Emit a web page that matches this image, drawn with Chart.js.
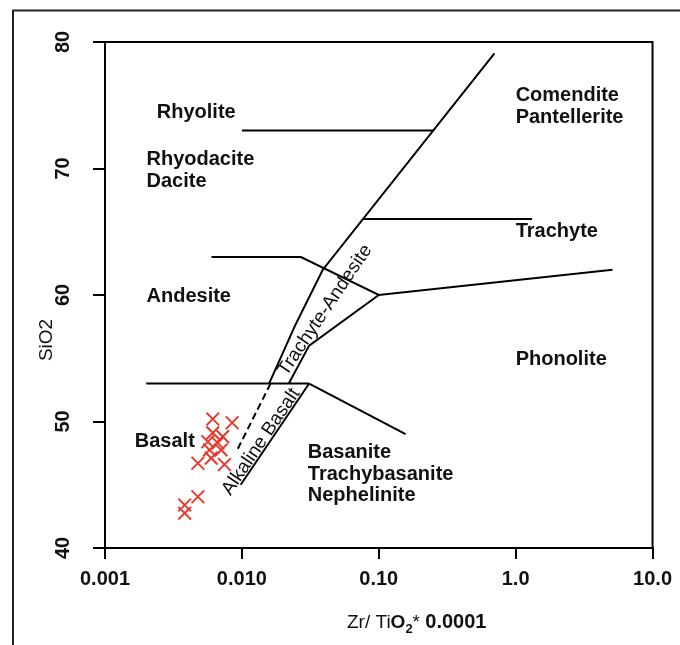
<!DOCTYPE html>
<html>
<head>
<meta charset="utf-8">
<script src="https://cdn.jsdelivr.net/npm/chart.js@4/dist/chart.umd.min.js"></script>
<style>
  html, body { margin: 0; padding: 0; background: #fff; }
  #wrap { width: 680px; height: 645px; }
</style>
</head>
<body>
<div id="wrap"><canvas id="tas" width="680" height="645"></canvas></div>
<script>
// axis ticks
const xTickValues = [0.001, 0.01, 0.1, 1, 10];
const xTickLabels = ["0.001", "0.010", "0.10", "1.0", "10.0"];
const yTickValues = [40, 50, 60, 70, 80];
const yTickLabels = ["40", "50", "60", "70", "80"];

// field boundaries (Zr/TiO2*0.0001 vs SiO2)
const mainLineX = [0.0158, 0.0245, 0.039, 0.70];
const mainLineY = [53, 57.6, 62, 79.1];
const rhyoliteLineX = [0.01, 0.25];
const rhyoliteLineY = [73, 73];
const trachyteLineX = [0.077, 1.32];
const trachyteLineY = [66, 66];
const andesiteLineX = [0.006, 0.027, 0.1, 5.1];
const andesiteLineY = [63, 63, 60, 62];
const trachyandesiteLineX = [0.1, 0.031, 0.022];
const trachyandesiteLineY = [60, 56, 53];
const basaltLineX = [0.002, 0.031];
const basaltLineY = [53, 53];
const basaniteLineX = [0.031, 0.157];
const basaniteLineY = [53, 49];
const alkBasaltLineX = [0.031, 0.0098];
const alkBasaltLineY = [53, 45];
const dashedLineX = [0.0162, 0.0091];
const dashedLineY = [53, 47.6];

// samples
const sampleZrTi = [0.00613, 0.00849, 0.00613, 0.00725, 0.00564, 0.00667, 0.0058,
                    0.00706, 0.00477, 0.00597, 0.00746, 0.00477, 0.00382, 0.00382];
const sampleSiO2 = [50.2, 49.9, 49.1, 48.8, 48.4, 48.3, 47.75,
                    47.75, 46.7, 47.1, 46.6, 44.05, 43.4, 42.75];

const FONT = "'Liberation Sans', Arial, sans-serif";

function toPoints(xs, ys) {
    return xs.map((x, i) => ({ x: x, y: ys[i] }));
}

function boundary(xs, ys, dash) {
    return {
        data: toPoints(xs, ys),
        showLine: true,
        borderColor: "#000",
        borderWidth: 2,
        borderDash: dash || [],
        pointRadius: 0,
        fill: false,
        order: 2
    };
}

const datasets = [
    {
        data: toPoints(sampleZrTi, sampleSiO2),
        pointStyle: "crossRot",
        pointRadius: 9,
        pointBorderWidth: 2,
        borderColor: "#e8392e",
        backgroundColor: "#e8392e",
        showLine: false,
        order: 1
    },
    boundary(mainLineX, mainLineY),
    boundary(rhyoliteLineX, rhyoliteLineY),
    boundary(trachyteLineX, trachyteLineY),
    boundary(andesiteLineX, andesiteLineY),
    boundary(trachyandesiteLineX, trachyandesiteLineY),
    boundary(basaltLineX, basaltLineY),
    boundary(basaniteLineX, basaniteLineY),
    boundary(alkBasaltLineX, alkBasaltLineY),
    boundary(dashedLineX, dashedLineY, [7, 4])
];

// field names, placed in data coordinates (left edge, middle)
const fieldLabels = [
    { text: "Rhyolite", x: 0.00239, y: 74.4 },
    { text: "Rhyodacite", x: 0.00201, y: 70.7 },
    { text: "Dacite", x: 0.00201, y: 69.0 },
    { text: "Andesite", x: 0.00201, y: 59.9 },
    { text: "Basalt", x: 0.00165, y: 48.4 },
    { text: "Comendite", x: 1.0, y: 75.8 },
    { text: "Pantellerite", x: 1.0, y: 74.0 },
    { text: "Trachyte", x: 1.0, y: 65.0 },
    { text: "Phonolite", x: 1.0, y: 54.9 },
    { text: "Basanite", x: 0.0303, y: 47.55 },
    { text: "Trachybasanite", x: 0.0303, y: 45.85 },
    { text: "Nephelinite", x: 0.0303, y: 44.13 }
];
const rotatedLabels = [
    { text: "Trachyte-Andesite", x: 0.0405, y: 58.8, angle: -56 },
    { text: "Alkaline Basalt", x: 0.0138, y: 48.4, angle: -56 }
];

const decorPlugin = {
    id: "decor",
    afterDraw(chart) {
        const ctx = chart.ctx;
        const area = chart.chartArea;
        const xs = chart.scales.x;
        const ys = chart.scales.y;
        ctx.save();

        // outer frame
        ctx.strokeStyle = "#222";
        ctx.lineWidth = 2;
        ctx.strokeRect(13, 10.5, 720, 720);

        // top and right edge of the plot box
        ctx.strokeStyle = "#000";
        ctx.beginPath();
        ctx.moveTo(area.left, area.top);
        ctx.lineTo(area.right, area.top);
        ctx.lineTo(area.right, area.bottom);
        ctx.stroke();

        // y tick labels, rotated
        ctx.fillStyle = "#111";
        ctx.font = "bold 20px " + FONT;
        ctx.textAlign = "center";
        ctx.textBaseline = "middle";
        yTickValues.forEach((v, i) => {
            ctx.save();
            ctx.translate(63, ys.getPixelForValue(v));
            ctx.rotate(-Math.PI / 2);
            ctx.fillText(yTickLabels[i], 0, 0);
            ctx.restore();
        });

        // y title
        ctx.save();
        ctx.translate(47, 340);
        ctx.rotate(-Math.PI / 2);
        ctx.font = "19px " + FONT;
        ctx.fillText("SiO2", 0, 0);
        ctx.restore();

        // x title: Zr/TiO2* 0.0001 with mixed weights
        const parts = [
            { t: "Zr/ Ti", f: "19px " + FONT, dy: 0 },
            { t: "O", f: "bold 19px " + FONT, dy: 0 },
            { t: "2", f: "bold 13px " + FONT, dy: 5 },
            { t: "* ", f: "19px " + FONT, dy: 0 },
            { t: "0.0001", f: "bold 20px " + FONT, dy: 0 }
        ];
        ctx.textAlign = "left";
        ctx.textBaseline = "alphabetic";
        let tx = 347;
        parts.forEach(p => {
            ctx.font = p.f;
            ctx.fillText(p.t, tx, 628 + p.dy);
            tx += ctx.measureText(p.t).width;
        });

        // field labels
        ctx.font = "bold 20px " + FONT;
        ctx.textBaseline = "middle";
        fieldLabels.forEach(l => {
            ctx.fillText(l.text, xs.getPixelForValue(l.x), ys.getPixelForValue(l.y));
        });

        ctx.font = "19px " + FONT;
        ctx.textAlign = "center";
        rotatedLabels.forEach(l => {
            ctx.save();
            ctx.translate(xs.getPixelForValue(l.x), ys.getPixelForValue(l.y));
            ctx.rotate(l.angle * Math.PI / 180);
            ctx.fillText(l.text, 0, 0);
            ctx.restore();
        });

        ctx.restore();
    }
};

const ctx = document.getElementById("tas").getContext("2d");

new Chart(ctx, {
    type: "scatter",
    data: { datasets: datasets },
    options: {
        responsive: false,
        animation: false,
        layout: { padding: { top: 42, right: 25, left: 0, bottom: 0 } },
        plugins: {
            legend: { display: false },
            tooltip: { enabled: false }
        },
        scales: {
            x: {
                type: "logarithmic",
                min: 0.001,
                max: 10,
                afterBuildTicks: scale => {
                    scale.ticks = xTickValues.map(v => ({ value: v }));
                },
                afterFit: scale => { scale.height = 645 - 548; },
                ticks: {
                    autoSkip: false,
                    maxRotation: 0,
                    color: "#111",
                    padding: 8,
                    font: { family: FONT, size: 20, weight: "bold" },
                    callback: (value, index) => xTickLabels[index]
                },
                grid: {
                    drawOnChartArea: false,
                    drawTicks: true,
                    tickLength: 11,
                    color: "#000",
                    lineWidth: 2
                },
                border: { color: "#000", width: 2 }
            },
            y: {
                min: 40,
                max: 80,
                afterBuildTicks: scale => {
                    scale.ticks = yTickValues.map(v => ({ value: v }));
                },
                afterFit: scale => { scale.width = 105; },
                ticks: { display: false },
                grid: {
                    drawOnChartArea: false,
                    drawTicks: true,
                    tickLength: 12,
                    color: "#000",
                    lineWidth: 2
                },
                border: { color: "#000", width: 2 }
            }
        }
    },
    plugins: [decorPlugin]
});
</script>
</body>
</html>
